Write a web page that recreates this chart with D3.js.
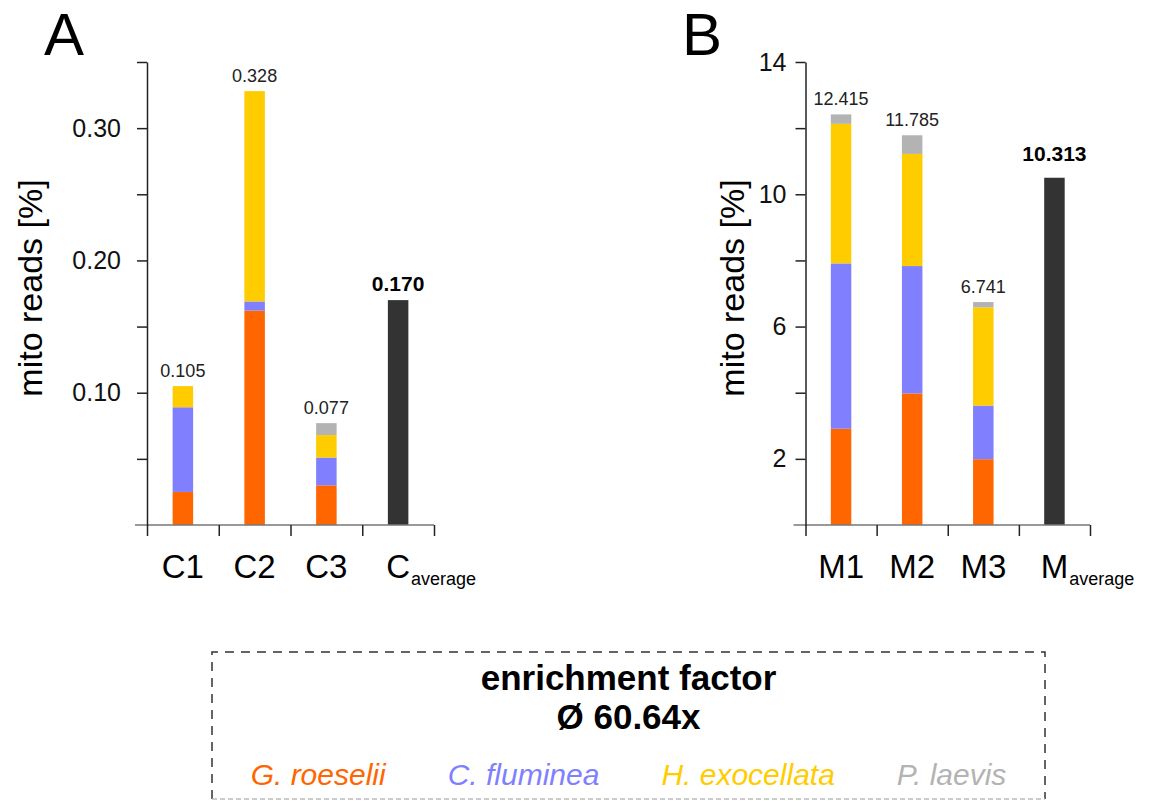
<!DOCTYPE html>
<html lang="en">
<head>
  <meta charset="UTF-8">
  <title>mito reads</title>
  <script src="https://d3js.org/d3.v7.min.js"></script>
  <style>
    body { margin: 0; background: white; }
    svg { display: block; font-family: "Liberation Sans", Arial, sans-serif; }
    .tick line { stroke: #222; stroke-width: 1.5px; }
    .domain { stroke: #222; stroke-width: 1.5px; }
  </style>
</head>
<body>
<svg width="1150" height="801"></svg>
<script>
  // species (stack order, bottom to top)
  const species = ["G. roeselii", "C. fluminea", "H. exocellata", "P. laevis"];
  const speciesKeys = ["roeselii", "fluminea", "exocellata", "laevis"];
  const speciesColors = ["#ff6600", "#8080ff", "#ffcc00", "#b3b3b3"];

  // panel A - controls
  const catA = ["C1", "C2", "C3"];
  const roeseliiA = [0.025, 0.162, 0.030];
  const flumineaA = [0.064, 0.007, 0.021];
  const exocellataA = [0.016, 0.159, 0.017];
  const laevisA = [0, 0, 0.009];
  const totalLabelsA = ["0.105", "0.328", "0.077"];
  const avgA = 0.170;
  const avgLabelA = "0.170";
  const yTicksA = [0.05, 0.10, 0.15, 0.20, 0.25, 0.30, 0.35];
  const yTickLabelsA = ["", "0.10", "", "0.20", "", "0.30", ""];

  // panel B - mito enriched
  const catB = ["M1", "M2", "M3"];
  const roeseliiB = [2.91, 3.98, 1.99];
  const flumineaB = [5.00, 3.85, 1.62];
  const exocellataB = [4.22, 3.39, 2.97];
  const laevisB = [0.285, 0.565, 0.161];
  const totalLabelsB = ["12.415", "11.785", "6.741"];
  const avgB = 10.5;
  const avgLabelB = "10.313";
  const yTicksB = [2, 4, 6, 8, 10, 12, 14];
  const yTickLabelsB = ["2", "", "6", "", "10", "", "14"];

  const svg = d3.select("svg");
  const baseY = 525, topY = 62;

  function drawPanel(p) {
    const n = p.cats.length + 1;
    const x = d3.scaleLinear().domain([0, n]).range([p.x0, p.x1]);
    const y = d3.scaleLinear().domain([0, p.yMax]).range([baseY, topY]);
    const g = svg.append("g");
    const barW = 20.5;

    // rows for the stack
    const rows = p.cats.map((c, i) => ({
      cat: c,
      roeselii: p.series[0][i],
      fluminea: p.series[1][i],
      exocellata: p.series[2][i],
      laevis: p.series[3][i]
    }));
    const stacked = d3.stack().keys(speciesKeys)(rows);

    // panel letter
    g.append("text")
      .attr("x", p.letterX)
      .attr("y", 55)
      .attr("font-size", "60px")
      .text(p.letter);

    // y axis title
    g.append("text")
      .attr("transform", `translate(${p.titleX},288) rotate(-90)`)
      .attr("text-anchor", "middle")
      .attr("font-size", "34px")
      .text("mito reads [%]");

    // stacked bars
    stacked.forEach((layer, k) => {
      g.selectAll(null)
        .data(layer)
        .join("rect")
        .attr("x", (d, i) => x(i + 0.5) - barW / 2)
        .attr("width", barW)
        .attr("y", d => y(d[1]))
        .attr("height", d => y(d[0]) - y(d[1]))
        .attr("fill", speciesColors[k]);
    });

    // average bar
    g.append("rect")
      .attr("x", x(n - 0.5) - barW / 2)
      .attr("width", barW)
      .attr("y", y(p.avg))
      .attr("height", y(0) - y(p.avg))
      .attr("fill", "#333333");

    // total labels
    g.selectAll(null)
      .data(rows)
      .join("text")
      .attr("x", (d, i) => x(i + 0.5))
      .attr("y", d => y(d.roeselii + d.fluminea + d.exocellata + d.laevis) - 9)
      .attr("text-anchor", "middle")
      .attr("font-size", "18px")
      .attr("fill", "#222")
      .text((d, i) => p.totalLabels[i]);

    g.append("text")
      .attr("x", x(n - 0.5))
      .attr("y", y(p.avg) - p.avgGap)
      .attr("text-anchor", "middle")
      .attr("font-size", "21px")
      .attr("font-weight", "bold")
      .text(p.avgLabel);

    // baseline (x axis line, grey, runs past the y axis)
    g.append("line")
      .attr("x1", p.x0 - 12)
      .attr("x2", p.x1)
      .attr("y1", y(0))
      .attr("y2", y(0))
      .attr("stroke", "#777")
      .attr("stroke-width", 1.5);

    // x ticks sit on the category boundaries
    g.append("g")
      .attr("transform", `translate(0,${y(0)})`)
      .call(d3.axisBottom(x).tickValues(d3.range(0, n + 1)).tickSize(11).tickFormat(""))
      .call(a => a.select(".domain").remove());

    // y axis
    g.append("g")
      .attr("transform", `translate(${p.x0},0)`)
      .call(d3.axisLeft(y)
        .tickValues(p.yTicks)
        .tickSize(10)
        .tickSizeOuter(0)
        .tickPadding(p.tickPad)
        .tickFormat((d, i) => p.yTickLabels[i]))
      .call(a => a.selectAll("text")
        .attr("font-size", "25px")
        .attr("font-family", "Liberation Sans, Arial, sans-serif")
        .attr("fill", "#111"));

    // category labels
    g.selectAll(null)
      .data(p.cats)
      .join("text")
      .attr("x", (d, i) => x(i + 0.5))
      .attr("y", 578)
      .attr("text-anchor", "middle")
      .attr("font-size", "33px")
      .text(d => d);

    const avgMain = g.append("text")
      .attr("x", x(n - 0.5))
      .attr("y", 578)
      .attr("text-anchor", "middle")
      .attr("font-size", "33px")
      .text(p.avgLetter);
    const w = avgMain.node().getComputedTextLength();
    g.append("text")
      .attr("x", x(n - 0.5) + w / 2 + 1)
      .attr("y", 585)
      .attr("font-size", "18px")
      .text("average");
  }

  drawPanel({
    letter: "A", letterX: 44, titleX: 42,
    x0: 147, x1: 434, yMax: 0.35, tickPad: 16,
    cats: catA, series: [roeseliiA, flumineaA, exocellataA, laevisA],
    totalLabels: totalLabelsA, avg: avgA, avgLabel: avgLabelA, avgGap: 9,
    yTicks: yTicksA, yTickLabels: yTickLabelsA, avgLetter: "C"
  });

  drawPanel({
    letter: "B", letterX: 682, titleX: 744,
    x0: 805.5, x1: 1090, yMax: 14, tickPad: 9,
    cats: catB, series: [roeseliiB, flumineaB, exocellataB, laevisB],
    totalLabels: totalLabelsB, avg: avgB, avgLabel: avgLabelB, avgGap: 17,
    yTicks: yTicksB, yTickLabels: yTickLabelsB, avgLetter: "M"
  });

  // legend box: dashed top and sides, faint bottom at the picture edge
  const legend = svg.append("g");
  const bx0 = 212, bx1 = 1045, by0 = 652, by1 = 799;
  legend.append("path")
    .attr("d", `M${bx0},${by1}V${by0}H${bx1}V${by1}`)
    .attr("fill", "none")
    .attr("stroke", "#333")
    .attr("stroke-width", 1.5)
    .attr("stroke-dasharray", "9,7");
  legend.append("line")
    .attr("x1", bx0)
    .attr("x2", bx1)
    .attr("y1", by1)
    .attr("y2", by1)
    .attr("stroke", "#bbb")
    .attr("stroke-width", 1.5)
    .attr("stroke-dasharray", "5,3");

  legend.append("text")
    .attr("x", 628.5)
    .attr("y", 690)
    .attr("text-anchor", "middle")
    .attr("font-size", "35px")
    .attr("font-weight", "bold")
    .text("enrichment factor");

  legend.append("text")
    .attr("x", 628.5)
    .attr("y", 729)
    .attr("text-anchor", "middle")
    .attr("font-size", "35px")
    .attr("font-weight", "bold")
    .text("Ø 60.64x");

  // species names laid out in a row, centred in the box
  const items = legend.selectAll(null)
    .data(species)
    .join("text")
    .attr("y", 785)
    .attr("font-size", "30px")
    .attr("font-style", "italic")
    .attr("fill", (d, i) => speciesColors[i])
    .text(d => d);

  const gap = 62;
  const widths = items.nodes().map(nd => nd.getComputedTextLength());
  const total = d3.sum(widths) + gap * (widths.length - 1);
  let cx = 628.5 - total / 2;
  items.attr("x", (d, i) => {
    const pos = cx;
    cx += widths[i] + gap;
    return pos;
  });
</script>
</body>
</html>
